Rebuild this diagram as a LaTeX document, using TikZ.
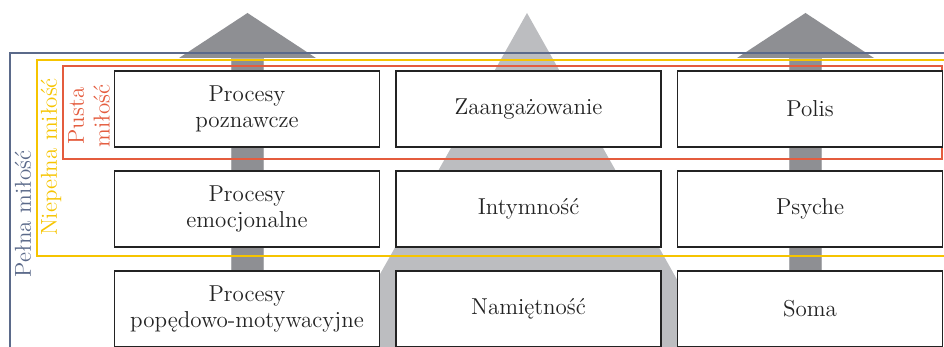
\documentclass[tikz,border=0pt]{standalone}
\usepackage{tikz}
\usetikzlibrary{positioning}
\definecolor{lovblue}{RGB}{91,106,138}
\definecolor{lovyellow}{RGB}{246,196,0}
\definecolor{lovred}{RGB}{228,92,62}
\definecolor{lovlight}{RGB}{188,189,192}
\definecolor{lovdark}{RGB}{142,143,147}
\definecolor{lovedge}{RGB}{172,173,176}
\definecolor{lovink}{RGB}{35,35,35}

\begin{document}
\begin{tikzpicture}[
    x=0.02cm, y=-0.02cm,
    node distance=0.45cm and 0.3cm,
    box/.style={rectangle, draw=lovink, line width=0.9pt, fill=white, minimum width=5.3cm, minimum height=1.52cm, align=center, inner sep=2pt, text=lovink, font=\fontsize{13.1}{14.6}\selectfont},
    frame/.style={draw=#1, line width=0.9pt},
    side/.style={rotate=90, text=#1, align=center, font=\fontsize{13.1}{14.6}\selectfont},
    arrowbody/.style={fill=lovdark, draw=lovedge, line width=0.5pt}
]
\useasboundingbox (0,0) rectangle (944,347);
\clip (0,0) rectangle (944,347);

% Background pyramid and arrows
\fill[lovlight] (527,13) -- (715,347) -- (339,347) -- cycle;
\draw[arrowbody] (231.5,58) rectangle (263.5,360);
\fill[lovdark] (179,58) -- (247.5,13) -- (316,58) -- cycle;
\draw[arrowbody] (789.5,58) rectangle (821.5,360);
\fill[lovdark] (737,58) -- (805.5,13) -- (874,58) -- cycle;

% Frames
\draw[frame=lovblue] (10,53) rectangle (970,370);
\draw[frame=lovyellow] (37,60) rectangle (970,256);
\draw[frame=lovred] (63,66) rectangle (942,159);

\node[side=lovblue] (full) at (23,214) {Pełna miłość};
\node[side=lovyellow] (partial) at (51,157) {Niepełna miłość};
\node[side=lovred] (empty) at (89,116) {Pusta\\miłość};

% Nine boxes
\node[box] (cogn) at (247,109) {Procesy\\poznawcze};
\node[box, right=of cogn] (commit) {Zaangażowanie};
\node[box, right=of commit] (polis) {Polis};

\node[box, below=of cogn] (emot) {Procesy\\emocjonalne};
\node[box, below=of commit] (intim) {Intymność};
\node[box, below=of polis] (psyche) {Psyche};

\node[box, below=of emot] (drive) {Procesy\\popędowo-motywacyjne};
\node[box, below=of intim] (passion) {Namiętność};
\node[box, below=of psyche] (soma) {Soma};

\end{tikzpicture}
\end{document}
